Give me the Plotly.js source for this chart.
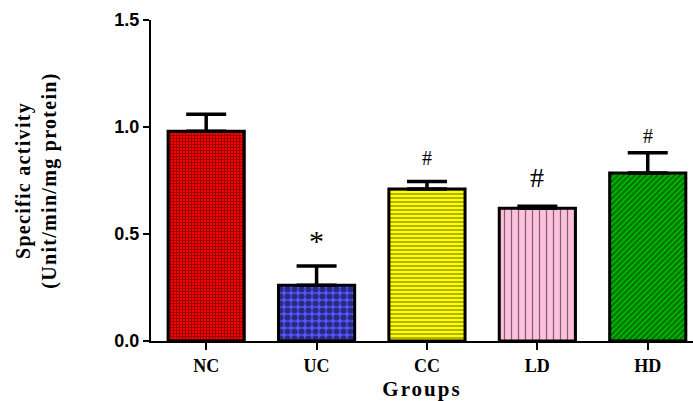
<!DOCTYPE html>
<html><head><meta charset="utf-8">
<script src="https://cdn.plot.ly/plotly-3.0.1.min.js"></script>
<style>html,body{margin:0;padding:0;background:#fff;}#c{width:693px;height:401px;}
.g-xtitle text{letter-spacing:2px;}
.g-ytitle text{letter-spacing:1.3px;}
</style>
</head><body><div id="c"></div>
<script>
var groups = ["NC", "UC", "CC", "LD", "HD"];
var activity = [0.98, 0.26, 0.71, 0.62, 0.785];
var sem = [0.08, 0.09, 0.035, 0.01, 0.095];
var marks = ["", "*", "#", "#", "#"];
var markHeights = [null, 0.47, 0.855, 0.766, 0.96];
var markSizes = [0, 30, 20, 28, 20];
var fillColors = ["#ff0000", "#5555ff", "#ffff00", "#ffc0dd", "#00b000"];
var patternShapes = ["+", ".", "-", "|", "/"];
var patternSizes = [3, 7, 4, 7, 4];
var patternSolid = [0.45, 0.6, 0.3, 0.18, 0.35];

var traces = groups.map(function(g, i){
  return {
    type: "bar", x: [g], y: [activity[i]], width: 0.69,
    marker: {color: fillColors[i], line: {color: "#000", width: 3},
      pattern: {shape: patternShapes[i], size: patternSizes[i], solidity: patternSolid[i],
        fgcolor: "#000", bgcolor: fillColors[i], fillmode: "overlay"}},
    error_y: {type: "data", symmetric: false, array: [sem[i]], arrayminus: [0],
      color: "#000", thickness: 3.5, width: 20},
    hoverinfo: "none", showlegend: false
  };
});

var annotations = [];
groups.forEach(function(g, i){
  if (marks[i]) annotations.push({x: g, y: markHeights[i], xref: "x", yref: "y", text: marks[i],
    showarrow: false, font: {family: "Liberation Serif", size: markSizes[i], color: "#000"}});
});

var layout = {
  width: 693, height: 401,
  margin: {l: 151, r: 0, t: 20, b: 60},
  paper_bgcolor: "#fff", plot_bgcolor: "#fff",
  xaxis: {type: "category", categoryorder: "array", categoryarray: groups, range: [-0.5, 4.41],
    showline: true, linecolor: "#000", linewidth: 2, showgrid: false, zeroline: false,
    ticks: "outside", ticklen: 7, tickwidth: 2, tickcolor: "#000",
    tickfont: {family: "Liberation Serif", size: 18, color: "#000", weight: "bold"},
    title: {text: "<b>Groups</b>", font: {family: "Liberation Serif", size: 21, color: "#000"}, standoff: 9}},
  yaxis: {range: [0, 1.5], tickvals: [0, 0.5, 1.0, 1.5], ticktext: ["0.0", "0.5", "1.0", "1.5"],
    showline: true, linecolor: "#000", linewidth: 2, showgrid: false, zeroline: false,
    ticks: "outside", ticklen: 6, tickwidth: 2, tickcolor: "#000",
    tickfont: {family: "Liberation Sans", size: 18, color: "#000", weight: "bold"},
    title: {text: "<b>Specific activity<br>(Unit/min/mg protein)</b>", font: {family: "Liberation Serif", size: 20, color: "#000"}, standoff: 52}},
  annotations: annotations
};
Plotly.newPlot("c", traces, layout, {staticPlot: true});
</script></body></html>
